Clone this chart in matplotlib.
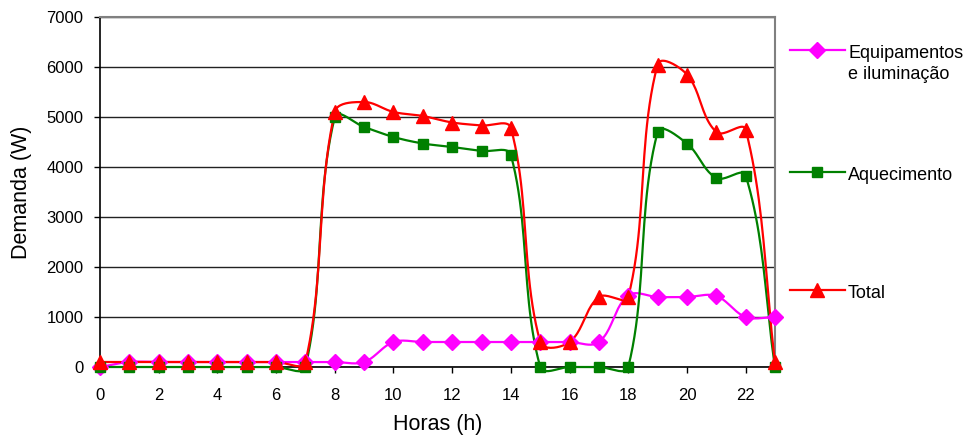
import numpy as np
import matplotlib
matplotlib.use("Agg")
import matplotlib.pyplot as plt
from matplotlib.lines import Line2D

plt.rcParams['font.family'] = ['Liberation Sans', 'DejaVu Sans']

# dados
horas = list(range(24))
equipamentos = [0, 100, 100, 100, 100, 100, 100, 100, 100, 100, 500, 500,
                500, 500, 500, 500, 500, 500, 1430, 1400, 1400, 1420, 1000, 1000]
aquecimento = [0, 0, 0, 0, 0, 0, 0, 0, 5000, 4800, 4600, 4470,
               4400, 4320, 4240, 0, 0, 0, 0, 4700, 4470, 3780, 3830, 0]
total = [100, 100, 100, 100, 100, 100, 100, 100, 5100, 5300, 5100, 5020,
         4890, 4830, 4780, 500, 500, 1400, 1400, 6050, 5850, 4700, 4750, 100]

nomes = ["Equipamentos\ne iluminação", "Aquecimento", "Total"]
cores = ["#FF00FF", "#008000", "#FF0000"]
marcadores = ["D", "s", "^"]
tamanhos = [8, 7.5, 10]

# escala aproximada em pixels (para suavizar como o Excel)
ESC_X = 675 / 23
ESC_Y = 350 / 7000


def suavizar(x, y, n=24, s=1 / 3):
    # curva suave tipo Excel: Bezier com tangente normalizada em espaço de tela
    p = np.column_stack([np.asarray(x, float) * ESC_X, np.asarray(y, float) * ESC_Y])
    m = len(p)
    d = np.zeros_like(p)
    for i in range(m):
        a = p[max(i - 1, 0)]
        b = p[min(i + 1, m - 1)]
        v = b - a
        nv = np.hypot(*v)
        d[i] = v / nv if nv > 0 else 0
    t = np.linspace(0, 1, n)[:, None]
    partes = []
    for i in range(m - 1):
        p0, p3 = p[i], p[i + 1]
        L = np.hypot(*(p3 - p0))
        c1 = p0 + d[i] * L * s
        c2 = p3 - d[i + 1] * L * s
        b = (1 - t) ** 3 * p0 + 3 * (1 - t) ** 2 * t * c1 + 3 * (1 - t) * t ** 2 * c2 + t ** 3 * p3
        partes.append(b)
    b = np.vstack(partes)
    return b[:, 0] / ESC_X, b[:, 1] / ESC_Y


fig = plt.figure(figsize=(9.75, 4.43), dpi=100)
ax = fig.add_axes([100 / 975, 76 / 443, 675 / 975, 350 / 443])

for serie, cor, m, ms in zip([equipamentos, aquecimento, total], cores, marcadores, tamanhos):
    sx, sy = suavizar(horas, serie)
    ax.plot(sx, sy, color=cor, lw=1.6, zorder=3, clip_on=False)
    ax.plot(horas, serie, ls="none", marker=m, ms=ms, color=cor, zorder=4, clip_on=False)

ax.set_xlim(0, 23)
ax.set_ylim(0, 7000)
ax.set_xticks(range(0, 23, 2))
ax.set_yticks(range(0, 7001, 1000))
ax.yaxis.grid(True, color="#222222", lw=1)
ax.set_axisbelow(True)
ax.tick_params(axis="x", direction="out", length=4, width=1, pad=11, labelsize=12)
ax.tick_params(axis="y", direction="out", length=4, width=1, pad=8, labelsize=12)
for lado in ["left", "bottom"]:
    ax.spines[lado].set_color("black")
    ax.spines[lado].set_linewidth(1.2)
for lado in ["top", "right"]:
    ax.spines[lado].set_color("#808080")
    ax.spines[lado].set_linewidth(1.5)

ax.set_xlabel("Horas (h)", fontsize=15.5, labelpad=8)
ax.set_ylabel("Demanda (W)", fontsize=15.5, labelpad=10)

# legenda
leg_y = [393 / 443, 271 / 443, 153 / 443]
for nome, cor, m, ms, yy in zip(nomes, cores, marcadores, tamanhos, leg_y):
    fig.add_artist(Line2D([790 / 975, 845 / 975], [yy, yy], color=cor, lw=1.6))
    fig.add_artist(Line2D([817 / 975], [yy], marker=m, ms=ms, color=cor, ls="none"))
    fig.text(848 / 975, yy + 0.012, nome, fontsize=13, va="top", ha="left",
             linespacing=1.35)

fig.savefig("out.png", dpi=100)
